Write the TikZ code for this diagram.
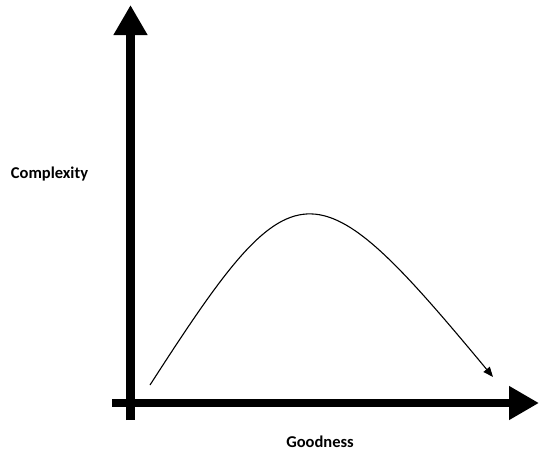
\documentclass[tikz,border=0pt]{standalone}
\usepackage{fontspec}
\setmainfont{Carlito}
\usetikzlibrary{arrows.meta}
\begin{document}
\begin{tikzpicture}[x=1pt,y=-1pt,
  axis/.style={line width=8.5pt,-{Triangle[length=30pt,width=32pt]}},
  curve/.style={line width=1.1pt,-{Triangle[length=10pt,width=8pt]}},
  lbl/.style={font=\bfseries\fontsize{16.5}{19}\selectfont,inner sep=0pt,anchor=base}]
\useasboundingbox (0,0) rectangle (539,451);
\coordinate (vb) at (130.5,420);
\coordinate (vt) at (130.5,5);
\coordinate (hl) at (112,403);
\coordinate (hr) at (539,403);
\draw[axis] (vb) -- (vt);
\draw[axis] (hl) -- (hr);
\coordinate (cs) at (150,385);
\coordinate (ce) at (493,377);
\draw[curve] (cs) .. controls (295,160) and (312,159) .. (ce);
\node[lbl] (ylab) at (49.5,178) {Complexity};
\node[lbl] (xlab) at (320,447) {Goodness};
\end{tikzpicture}
\end{document}
